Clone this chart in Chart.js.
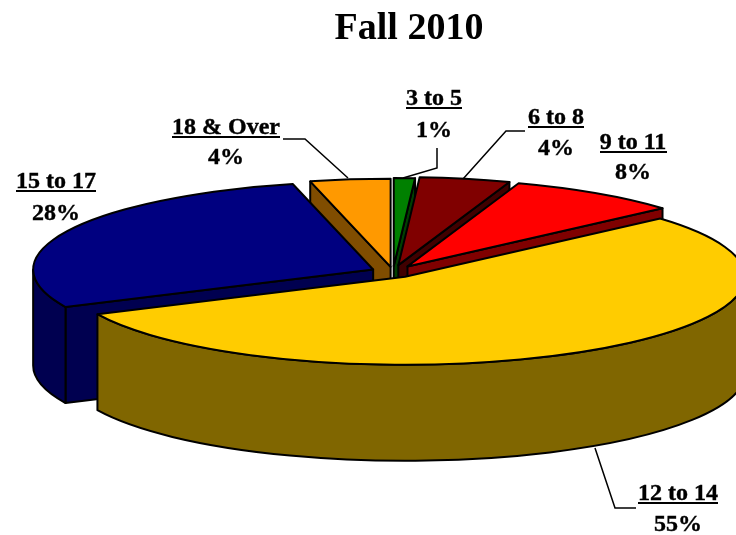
<!DOCTYPE html>
<html>
<head>
<meta charset="utf-8">
<style>html,body{margin:0;padding:0;background:#fff}#w{position:relative;width:736px;height:535px}</style>
<script src="https://cdn.jsdelivr.net/npm/chart.js@4"></script>
</head>
<body>
<div id="w"><canvas id="c" width="736" height="535"></canvas></div>
<script>
const titleText = 'Fall 2010';
const categories = ['3 to 5', '6 to 8', '9 to 11', '12 to 14', '15 to 17', '18 & Over'];
const percents = [1, 4.3, 8.2, 54.5, 28.2, 3.8];
const sliceColors = ['#008000', '#800000', '#FF0000', '#FFCC00', '#000080', '#FF9900'];
const wallColors = ['#004000', '#400000', '#800000', '#806600', '#000050', '#804D00'];

const serif = '"Liberation Serif", "Times New Roman", serif';
const view = {x: 393, y: 272, radius: 340, squash: 88 / 340, depth: 96};
const explode = [23, 27, 26, 22, 22, 20];
const wallOrder = [5, 0, 1, 2, 4, 3];
const labelSpots = [
  {x: 434, y1: 105, y2: 137},
  {x: 556, y1: 124, y2: 155},
  {x: 633, y1: 149, y2: 179},
  {x: 678, y1: 500, y2: 531},
  {x: 56, y1: 188, y2: 220},
  {x: 226, y1: 134, y2: 164}
];
const leaders = [
  [[437, 148], [437, 168], [403, 178]],
  [[525, 131], [506, 131], [463, 179]],
  [[595, 448], [615, 508], [636, 508]],
  [[283, 139], [305, 139], [348, 178]]
];

function centre(chart) {
  const a = chart.chartArea;
  return {x: (a.left + a.right) / 2, y: (a.top + a.bottom) / 2};
}
function sliceGeom(chart, el) {
  const c = centre(chart);
  return {
    x: view.x + (el.x - c.x),
    y: view.y + (el.y - c.y) * view.squash,
    rx: el.outerRadius,
    ry: el.outerRadius * view.squash,
    a0: el.startAngle,
    a1: el.endAngle
  };
}
function point(g, a, dz) {
  return [g.x + g.rx * Math.cos(a), g.y + g.ry * Math.sin(a) + dz];
}
function paint(ctx, fill) {
  ctx.fillStyle = fill;
  ctx.fill();
  ctx.stroke();
}
function drawFace(ctx, g, a, fill) {
  const p = point(g, a, 0);
  ctx.beginPath();
  ctx.moveTo(g.x, g.y);
  ctx.lineTo(p[0], p[1]);
  ctx.lineTo(p[0], p[1] + view.depth);
  ctx.lineTo(g.x, g.y + view.depth);
  ctx.closePath();
  paint(ctx, fill);
}
function drawWall(ctx, g, fill) {
  if (Math.cos(g.a0) < 0) drawFace(ctx, g, g.a0, fill);
  if (Math.cos(g.a1) > 0) drawFace(ctx, g, g.a1, fill);
  const lo = Math.max(g.a0, 0), hi = Math.min(g.a1, Math.PI);
  if (hi > lo) {
    ctx.beginPath();
    ctx.ellipse(g.x, g.y, g.rx, g.ry, 0, lo, hi);
    ctx.ellipse(g.x, g.y + view.depth, g.rx, g.ry, 0, hi, lo, true);
    ctx.closePath();
    paint(ctx, fill);
  }
}

const pie3d = {
  id: 'pie3d',
  afterDatasetsUpdate(chart) {
    chart.getDatasetMeta(0).data.forEach((el, i) => {
      const mid = (el.startAngle + el.endAngle) / 2;
      el.x += Math.cos(mid) * explode[i];
      el.y += Math.sin(mid) * explode[i];
    });
  },
  beforeDatasetsDraw(chart) {
    const ctx = chart.ctx, els = chart.getDatasetMeta(0).data, c = centre(chart);
    ctx.save();
    ctx.strokeStyle = '#000';
    ctx.lineWidth = 2;
    ctx.lineJoin = 'round';
    wallOrder.forEach(i => drawWall(ctx, sliceGeom(chart, els[i]), wallColors[i]));
    ctx.restore();
    ctx.save();
    ctx.translate(view.x, view.y);
    ctx.scale(1, view.squash);
    ctx.translate(-c.x, -c.y);
  },
  afterDatasetsDraw(chart) {
    const ctx = chart.ctx, els = chart.getDatasetMeta(0).data;
    ctx.restore();
    ctx.save();
    ctx.strokeStyle = '#000';
    ctx.lineWidth = 2;
    ctx.lineJoin = 'round';
    els.forEach(el => {
      const g = sliceGeom(chart, el);
      ctx.beginPath();
      ctx.moveTo(g.x, g.y);
      ctx.ellipse(g.x, g.y, g.rx, g.ry, 0, g.a0, g.a1);
      ctx.closePath();
      ctx.stroke();
    });
    ctx.restore();
  },
  afterDraw(chart) {
    const ctx = chart.ctx;
    ctx.save();
    ctx.strokeStyle = '#000';
    ctx.lineWidth = 1.5;
    leaders.forEach(line => {
      ctx.beginPath();
      line.forEach((p, i) => i ? ctx.lineTo(p[0], p[1]) : ctx.moveTo(p[0], p[1]));
      ctx.stroke();
    });
    ctx.fillStyle = '#000';
    ctx.lineWidth = 0.4;
    ctx.font = 'bold 24px ' + serif;
    ctx.textAlign = 'center';
    ctx.textBaseline = 'alphabetic';
    categories.forEach((name, i) => {
      const s = labelSpots[i];
      const pct = Math.round(percents[i]) + '%';
      ctx.fillText(name, s.x, s.y1);
      ctx.strokeText(name, s.x, s.y1);
      const w = ctx.measureText(name).width;
      ctx.fillRect(Math.round(s.x - w / 2), s.y1 + 2, Math.round(w), 2);
      ctx.fillText(pct, s.x, s.y2);
      ctx.strokeText(pct, s.x, s.y2);
    });
    ctx.restore();
  }
};

new Chart(document.getElementById('c'), {
  type: 'pie',
  data: {
    labels: categories,
    datasets: [{
      data: percents,
      backgroundColor: sliceColors,
      borderWidth: 0,
      radius: view.radius,
      clip: false
    }]
  },
  options: {
    responsive: false,
    animation: false,
    events: [],
    rotation: 0,
    radius: view.radius,
    layout: {padding: {left: 82, top: 2}},
    plugins: {
      legend: {display: false},
      tooltip: {enabled: false},
      title: {
        display: true,
        text: titleText,
        color: '#000',
        font: {family: serif, size: 38, weight: 'bold'},
        padding: {top: 4, bottom: 4}
      }
    }
  },
  plugins: [pie3d]
});
</script>
</body>
</html>
